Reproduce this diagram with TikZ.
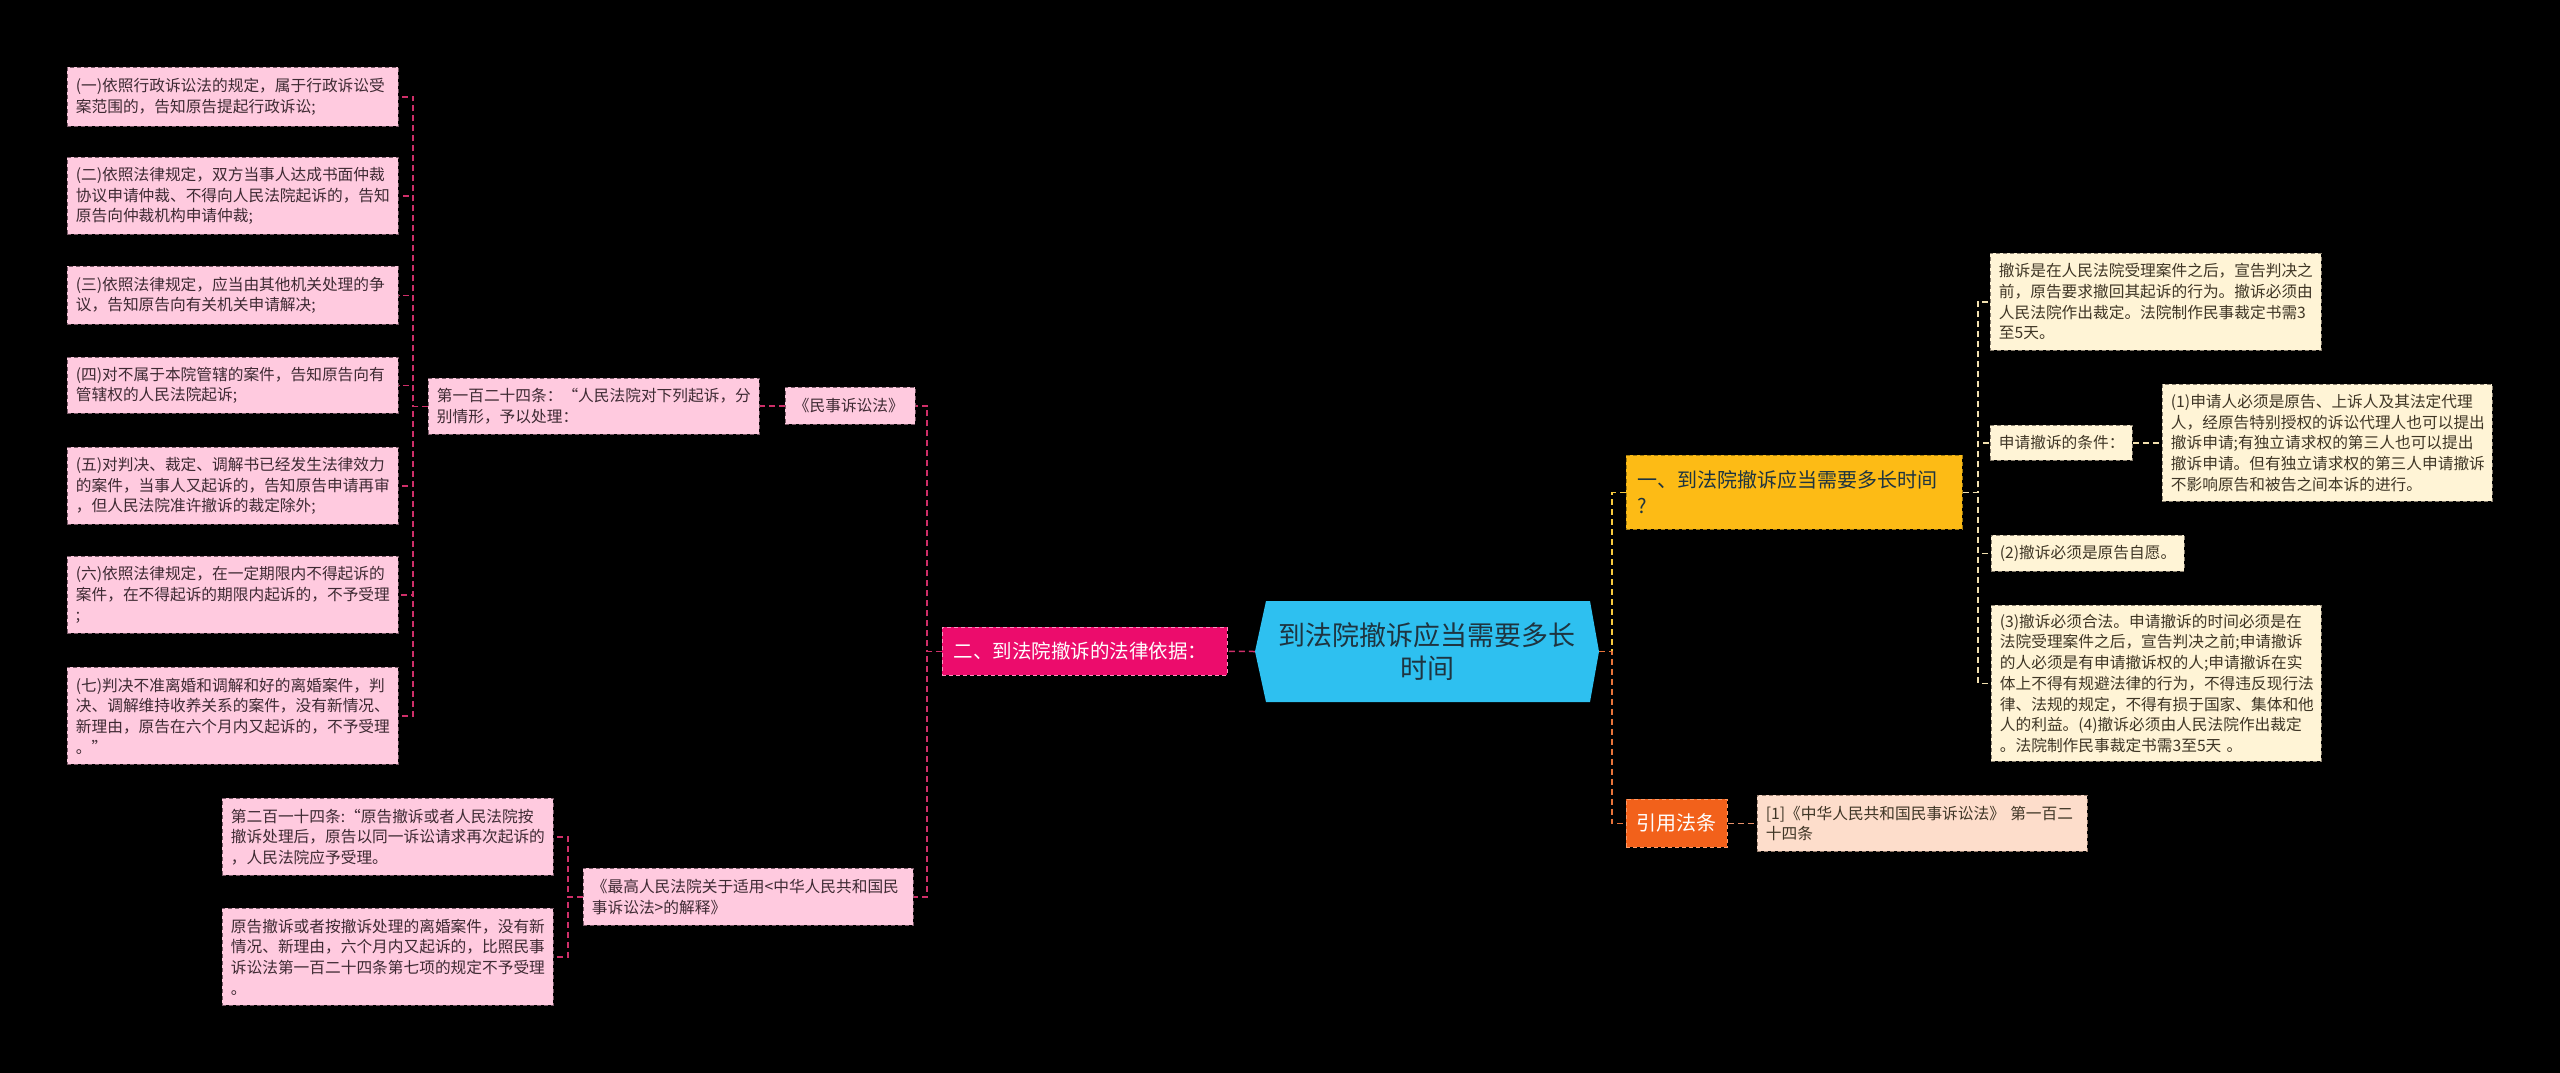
\documentclass[tikz,border=0pt]{standalone}
\usepackage{fontspec}
\setmainfont{Noto Sans CJK SC}
\definecolor{pinkf}{HTML}{FFCADF}
\definecolor{pinkd}{HTML}{7A5A68}
\definecolor{pinkt}{HTML}{3E2A33}
\definecolor{pinkln}{HTML}{CF2F69}
\definecolor{magf}{HTML}{EC0C6C}
\definecolor{magd}{HTML}{FF8FBF}
\definecolor{cyanf}{HTML}{2EC0F0}
\definecolor{ctrt}{HTML}{1E3440}
\definecolor{yelf}{HTML}{FDBB15}
\definecolor{yeld}{HTML}{A07A10}
\definecolor{yelln}{HTML}{F7C93E}
\definecolor{creamf}{HTML}{FFF4D6}
\definecolor{creamd}{HTML}{8A8070}
\definecolor{creamt}{HTML}{3F3626}
\definecolor{creamln}{HTML}{F1DFAE}
\definecolor{orgf}{HTML}{F2611B}
\definecolor{orgd}{HTML}{FF9A66}
\definecolor{orgln}{HTML}{E8733A}
\definecolor{peachf}{HTML}{FDDDCB}
\definecolor{peachd}{HTML}{9A8070}
\definecolor{peachln}{HTML}{E8916A}
\tikzset{
  box/.style={anchor=north west, inner xsep=8.5pt, inner ysep=0pt, align=left,
    font=\fontsize{15.7pt}{20.7pt}\selectfont, line width=0.8pt, dash pattern=on 4pt off 3pt},
  pinkbox/.style={box, fill=pinkf, draw=pinkd, text=pinkt},
  creambox/.style={box, fill=creamf, draw=creamd, text=creamt},
  peachbox/.style={box, fill=peachf, draw=peachd, text=creamt},
  link/.style={line width=1.5pt, dash pattern=on 6pt off 4pt},
  lkp/.style={link, draw=pinkln},
  lky/.style={link, draw=yelln},
  lkc/.style={link, draw=creamln},
  lko/.style={link, draw=orgln},
  lkq/.style={link, draw=peachln}
}
\begin{document}
\begin{tikzpicture}[x=1pt,y=-1pt]
\path[use as bounding box, fill=black] (0,0) rectangle (2560,1073);

% left column
\node[pinkbox, text width=314pt, minimum height=59pt] (b1) at (67,67) {(一)依照行政诉讼法的规定，属于行政诉讼受\\案范围的，告知原告提起行政诉讼;};
\node[pinkbox, text width=314pt, minimum height=77pt] (b2) at (67,157) {(二)依照法律规定，双方当事人达成书面仲裁\\协议申请仲裁、不得向人民法院起诉的，告知\\原告向仲裁机构申请仲裁;};
\node[pinkbox, text width=314pt, minimum height=58pt] (b3) at (67,266) {(三)依照法律规定，应当由其他机关处理的争\\议，告知原告向有关机关申请解决;};
\node[pinkbox, text width=314pt, minimum height=56pt] (b4) at (67,357) {(四)对不属于本院管辖的案件，告知原告向有\\管辖权的人民法院起诉;};
\node[pinkbox, text width=314pt, minimum height=77pt] (b5) at (67,447) {(五)对判决、裁定、调解书已经发生法律效力\\的案件，当事人又起诉的，告知原告申请再审\\，但人民法院准许撤诉的裁定除外;};
\node[pinkbox, text width=314pt, minimum height=77pt] (b6) at (67,556) {(六)依照法律规定，在一定期限内不得起诉的\\案件，在不得起诉的期限内起诉的，不予受理\\;};
\node[pinkbox, text width=314pt, minimum height=97pt] (b7) at (67,667) {(七)判决不准离婚和调解和好的离婚案件，判\\决、调解维持收养关系的案件，没有新情况、\\新理由，原告在六个月内又起诉的，不予受理\\。”};

\node[pinkbox, text width=314pt, minimum height=56pt] (p124) at (428,378) {第一百二十四条：“人民法院对下列起诉，分\\别情形，予以处理：};
\node[pinkbox, text width=113pt, minimum height=37pt] (mszs) at (785,387) {《民事诉讼法》};

\node[pinkbox, text width=314pt, minimum height=77pt] (A) at (222,798) {第二百一十四条:“原告撤诉或者人民法院按\\撤诉处理后，原告以同一诉讼请求再次起诉的\\，人民法院应予受理。};
\node[pinkbox, text width=314pt, minimum height=97pt] (B) at (222,908) {原告撤诉或者按撤诉处理的离婚案件，没有新\\情况、新理由，六个月内又起诉的，比照民事\\诉讼法第一百二十四条第七项的规定不予受理\\。};
\node[pinkbox, text width=313pt, minimum height=57pt] (C) at (583,868) {《最高人民法院关于适用<中华人民共和国民\\事诉讼法>的解释》};

\node[box, fill=magf, draw=magd, text=white, inner xsep=11.5pt, text width=262pt, minimum height=48pt,
  font=\fontsize{19.5pt}{24pt}\selectfont] (M) at (942,627) {二、到法院撤诉的法律依据：};

% center
\fill[cyanf] (1255,651.5) -- (1266,601) -- (1590,601) -- (1599,651.5) -- (1590,702) -- (1266,702) -- cycle;
\node[font=\fontsize{27pt}{33pt}\selectfont, align=center, text=ctrt, minimum width=344pt,
  minimum height=101pt, inner sep=0pt] (ctr) at (1427,651.5) {到法院撤诉应当需要多长\\时间};

% right side
\node[box, fill=yelf, draw=yeld, text=ctrt, inner xsep=11pt, text width=314pt, minimum height=74pt,
  font=\fontsize{20pt}{26pt}\selectfont] (Y) at (1626,455) {一、到法院撤诉应当需要多长时间\\?};
\node[box, fill=orgf, draw=orgd, text=white, inner xsep=0pt, align=center, minimum width=101pt,
  minimum height=48pt, font=\fontsize{20pt}{26pt}\selectfont] (K) at (1626,799) {引用法条};
\node[peachbox, text width=313pt, minimum height=56pt] (Kc) at (1757,795) {[1]《中华人民共和国民事诉讼法》 第一百二\\十四条};

\node[creambox, text width=314pt, minimum height=97pt] (R1) at (1990,253) {撤诉是在人民法院受理案件之后，宣告判决之\\前，原告要求撤回其起诉的行为。撤诉必须由\\人民法院作出裁定。法院制作民事裁定书需3\\至5天。};
\node[creambox, text width=125pt, minimum height=35pt] (R2) at (1990,425) {申请撤诉的条件：};
\node[creambox, text width=313pt, minimum height=117pt] (R2c) at (2162,384) {(1)申请人必须是原告、上诉人及其法定代理\\人，经原告特别授权的诉讼代理人也可以提出\\撤诉申请;有独立请求权的第三人也可以提出\\撤诉申请。但有独立请求权的第三人申请撤诉\\不影响原告和被告之间本诉的进行。};
\node[creambox, text width=176pt, minimum height=36pt] (R3) at (1991,535) {(2)撤诉必须是原告自愿。};
\node[creambox, text width=313pt, minimum height=156pt] (R4) at (1991,605) {(3)撤诉必须合法。申请撤诉的时间必须是在\\法院受理案件之后，宣告判决之前;申请撤诉\\的人必须是有申请撤诉权的人;申请撤诉在实\\体上不得有规避法律的行为，不得违反现行法\\律、法规的规定，不得有损于国家、集体和他\\人的利益。(4)撤诉必须由人民法院作出裁定\\。法院制作民事裁定书需3至5天 。};

% connectors left
\foreach \n in {b1,b2,b3,b4,b5,b6,b7}{
  \draw[lkp] (p124.west) -- ++(-15,0) |- (\n.east);
}
\draw[lkp] (mszs.west) -- (mszs.west -| p124.east);
\draw[lkp] (M.west) -- ++(-15,0) |- (mszs.east);
\draw[lkp] (M.west) -- ++(-15,0) |- (C.east);
\draw[lkp] (C.west) -- ++(-15,0) |- (A.east);
\draw[lkp] (C.west) -- ++(-15,0) |- (B.east);
\draw[lkp] (ctr.west) -- (M.east);

% connectors right
\draw[lky] (ctr.east) -- ++(13,0) |- (Y.west);
\draw[lko] (ctr.east) -- ++(13,0) |- (K.west);
\foreach \n in {R1,R2,R3,R4}{
  \draw[lkc] (Y.east) -- ++(15,0) |- (\n.west);
}
\draw[lkc] (R2.east) -- (R2c.west);
\draw[lkq] (K.east) -- (Kc.west);
\end{tikzpicture}
\end{document}
